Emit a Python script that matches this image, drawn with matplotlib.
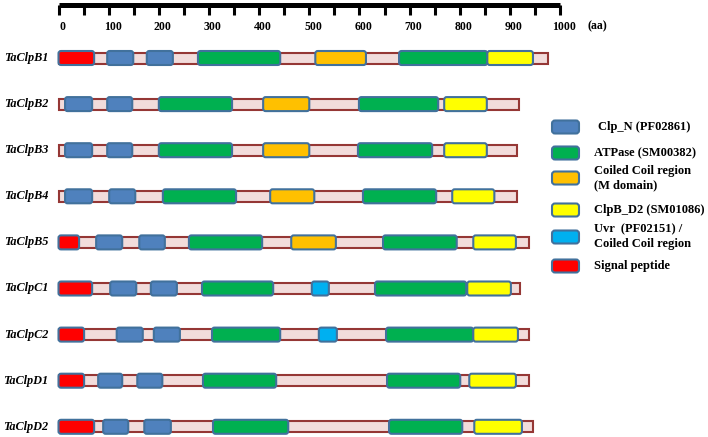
import matplotlib.pyplot as plt
from matplotlib.patches import Rectangle, FancyBboxPatch

# protein names and lengths (aa)
proteins = ['TaClpB1', 'TaClpB2', 'TaClpB3', 'TaClpB4', 'TaClpB5',
            'TaClpC1', 'TaClpC2', 'TaClpD1', 'TaClpD2']
lengths = [976, 918, 914, 914, 938, 920, 938, 938, 946]

# domains per protein: (start, end, type)
B1 = [(0, 71, 'sig'), (97, 149, 'clpn'), (176, 228, 'clpn'), (278, 442, 'atp'),
      (512, 613, 'coil'), (679, 855, 'atp'), (855, 946, 'd2')]
B2 = [(13, 67, 'clpn'), (97, 147, 'clpn'), (200, 346, 'atp'), (408, 500, 'coil'),
      (599, 757, 'atp'), (769, 854, 'd2')]
B3 = [(13, 67, 'clpn'), (97, 147, 'clpn'), (200, 346, 'atp'), (408, 500, 'coil'),
      (597, 745, 'atp'), (769, 854, 'd2')]
B4 = [(13, 67, 'clpn'), (101, 153, 'clpn'), (208, 354, 'atp'), (422, 510, 'coil'),
      (607, 753, 'atp'), (785, 869, 'd2')]
B5 = [(0, 41, 'sig'), (75, 127, 'clpn'), (161, 212, 'clpn'), (260, 406, 'atp'),
      (464, 553, 'coil'), (647, 794, 'atp'), (827, 912, 'd2')]
C1 = [(0, 67, 'sig'), (103, 155, 'clpn'), (184, 236, 'clpn'), (286, 428, 'atp'),
      (505, 539, 'uvr'), (631, 813, 'atp'), (815, 902, 'd2')]
C2 = [(0, 51, 'sig'), (116, 168, 'clpn'), (190, 242, 'clpn'), (306, 442, 'atp'),
      (519, 555, 'uvr'), (653, 827, 'atp'), (827, 916, 'd2')]
D1 = [(0, 51, 'sig'), (79, 127, 'clpn'), (157, 207, 'clpn'), (288, 434, 'atp'),
      (655, 801, 'atp'), (819, 912, 'd2')]
D2 = [(0, 71, 'sig'), (89, 139, 'clpn'), (171, 224, 'clpn'), (308, 458, 'atp'),
      (659, 805, 'atp'), (829, 924, 'd2')]
domains = [B1, B2, B3, B4, B5, C1, C2, D1, D2]

legend_keys = ['clpn', 'atp', 'coil', 'd2', 'uvr', 'sig']
legend_labels = ['Clp_N (PF02861)', 'ATPase (SM00382)', 'Coiled Coil region\n(M domain)',
                 'ClpB_D2 (SM01086)', 'Uvr  (PF02151) /\nCoiled Coil region', 'Signal peptide']

scale_ticks = list(range(0, 1001, 50))
scale_labels = list(range(0, 1001, 100))

colors = {'clpn': '#4f81bd', 'atp': '#00b050', 'coil': '#ffc000',
          'd2': '#ffff00', 'uvr': '#00b0f0', 'sig': '#ff0000'}
edge = '#41719c'

fig = plt.figure(figsize=(7.08, 4.37), dpi=100)
ax = fig.add_axes([0, 0, 1, 1])
# x in aa, y in pixels from top
ax.set_xlim(-116.7, 1295)
ax.set_ylim(437, 0)
ax.axis('off')

serif = 'Liberation Serif'

# scale bar
ax.plot([0, 1000], [5, 5], color='black', lw=3.6, solid_capstyle='butt')
for t in scale_ticks:
    ax.plot([t, t], [5, 15], color='black', lw=2.2, solid_capstyle='butt')
for t in scale_labels:
    ax.text(t + 8, 27, str(t), ha='center', va='center', family=serif,
            fontweight='bold', fontsize=8.5)
ax.text(1074, 26, '(aa)', ha='center', va='center', family=serif,
        fontweight='bold', fontsize=8.5)

y0, dy = 58, 46.1
for i, (name, L, doms) in enumerate(zip(proteins, lengths, domains)):
    y = y0 + dy * i
    ax.add_patch(Rectangle((0, y - 5.5), L, 11, facecolor='#f2dcdb',
                           edgecolor='#953735', lw=1.5, zorder=2))
    for s, e, k in doms:
        ax.add_patch(FancyBboxPatch((s, y - 7), e - s, 14,
                                    boxstyle='round,pad=0,rounding_size=5',
                                    mutation_aspect=0.5,
                                    facecolor=colors[k], edgecolor=edge,
                                    lw=1.5, zorder=3))
    ax.text(-21, y, name, ha='right', va='center', family=serif,
            fontweight='bold', style='italic', fontsize=8.8)

# legend (pixel coordinates)
lax = fig.add_axes([0, 0, 1, 1])
lax.set_xlim(0, 708)
lax.set_ylim(437, 0)
lax.axis('off')
leg_y = [127, 153, 178, 210, 237, 266]
for k, lab, yy in zip(legend_keys, legend_labels, leg_y):
    lax.add_patch(FancyBboxPatch((552, yy - 6.5), 27, 13,
                                 boxstyle='round,pad=0,rounding_size=3',
                                 facecolor=colors[k], edgecolor=edge, lw=1.5))
    tx = 598 if k == 'clpn' else 594
    lax.text(tx, yy, lab, ha='left', va='center', family=serif,
             fontweight='bold', fontsize=9, linespacing=1.3)

fig.savefig('out.png', dpi=100)
